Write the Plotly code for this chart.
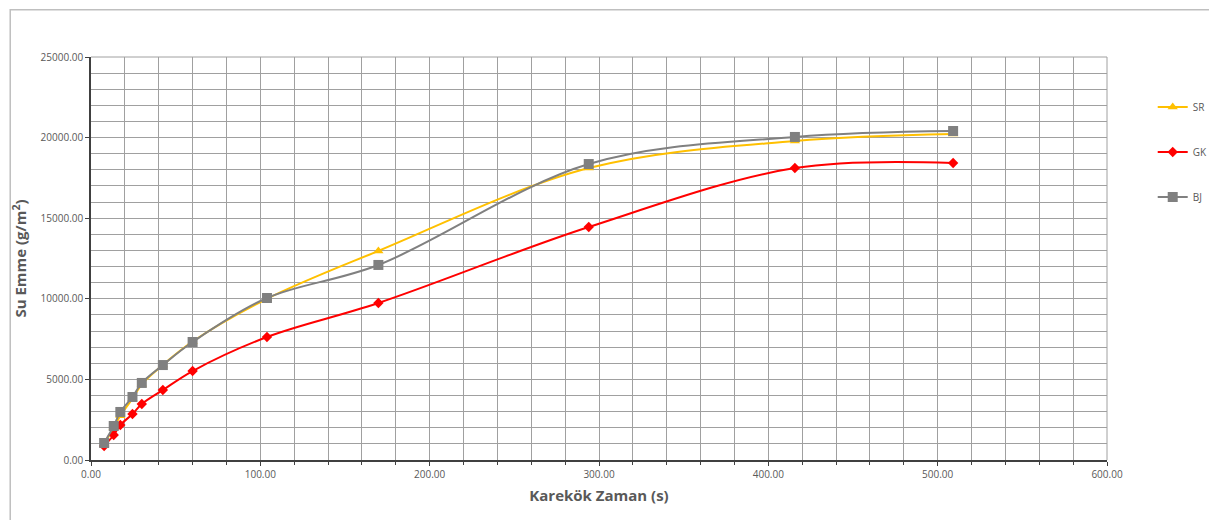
import plotly.graph_objects as go

x_vals = [7.75, 13.42, 17.32, 24.49, 30.00, 42.43, 60.00, 103.92, 169.71, 293.94, 415.69, 509.12]
sr_vals = [1000, 2000, 2750, 3800, 4700, 5900, 7350, 10000, 12970, 18110, 19790, 20220]
gk_vals = [870, 1550, 2170, 2850, 3470, 4340, 5520, 7630, 9740, 14450, 18110, 18420]
bj_vals = [1055, 2110, 2980, 3910, 4780, 5890, 7320, 10050, 12100, 18360, 20040, 20410]

series = [
    ("SR", sr_vals, "#FFC000", "triangle-up", 9),
    ("GK", gk_vals, "#FF0000", "diamond", 8),
    ("BJ", bj_vals, "#808080", "square", 10),
]

fig = go.Figure()
for name, vals, color, sym, sz in series:
    fig.add_trace(go.Scatter(
        x=x_vals, y=vals, name=name, mode="lines+markers",
        line=dict(color=color, width=2, shape="spline", smoothing=1),
        marker=dict(symbol=sym, size=sz, color=color),
        legendgroup=name,
    ))

font_family = "Open Sans, Liberation Sans, sans-serif"
grid_color = "#a0a0a0"

fig.update_layout(
    width=1217, height=520,
    margin=dict(l=81, r=110, t=49, b=68),
    paper_bgcolor="white", plot_bgcolor="white",
    font=dict(family=font_family, color="#595959", size=10),
    legend=dict(
        x=1.045, y=0.912, xanchor="left", yanchor="top",
        font=dict(size=10, color="#595959"),
        tracegroupgap=26, itemwidth=30,
        bgcolor="rgba(0,0,0,0)",
    ),
    xaxis=dict(
        range=[0, 600], dtick=100, tick0=0, tickformat=".2f",
        showgrid=True, gridcolor=grid_color, gridwidth=1,
        minor=dict(dtick=20, showgrid=True, gridcolor=grid_color, gridwidth=1,
                   ticks="outside", ticklen=3, tickcolor="#404040"),
        ticks="outside", ticklen=4, tickcolor="#404040",
        showline=True, linecolor="#404040", linewidth=1.5,
        zeroline=False, mirror=False,
        tickfont=dict(size=10, color="#595959"),
        title=dict(text="<b>Karekök Zaman (s)</b>", font=dict(size=15, color="#595959"), standoff=11),
    ),
    yaxis=dict(
        range=[0, 25000], dtick=5000, tick0=0, tickformat=".2f",
        showgrid=True, gridcolor=grid_color, gridwidth=1,
        minor=dict(dtick=1000, showgrid=True, gridcolor=grid_color, gridwidth=1),
        ticks="outside", ticklen=4, tickcolor="#404040",
        showline=True, linecolor="#404040", linewidth=1.5,
        zeroline=False,
        tickfont=dict(size=10, color="#595959"),
        title=dict(text="<b>Su Emme (g/m<sup>2</sup>)</b>", font=dict(size=15, color="#595959"), standoff=10),
    ),
    shapes=[
        dict(type="rect", xref="paper", yref="paper",
             x0=-0.0795, x1=1.103, y0=-0.2, y1=1.117,
             line=dict(color="#bfbfbf", width=1.5), fillcolor="rgba(0,0,0,0)", layer="below"),
        dict(type="line", xref="paper", yref="paper", x0=1, x1=1, y0=0, y1=1,
             line=dict(color=grid_color, width=1)),
        dict(type="line", xref="paper", yref="paper", x0=0, x1=1, y0=1, y1=1,
             line=dict(color=grid_color, width=1)),
    ],
)

fig.write_html("out.html")
